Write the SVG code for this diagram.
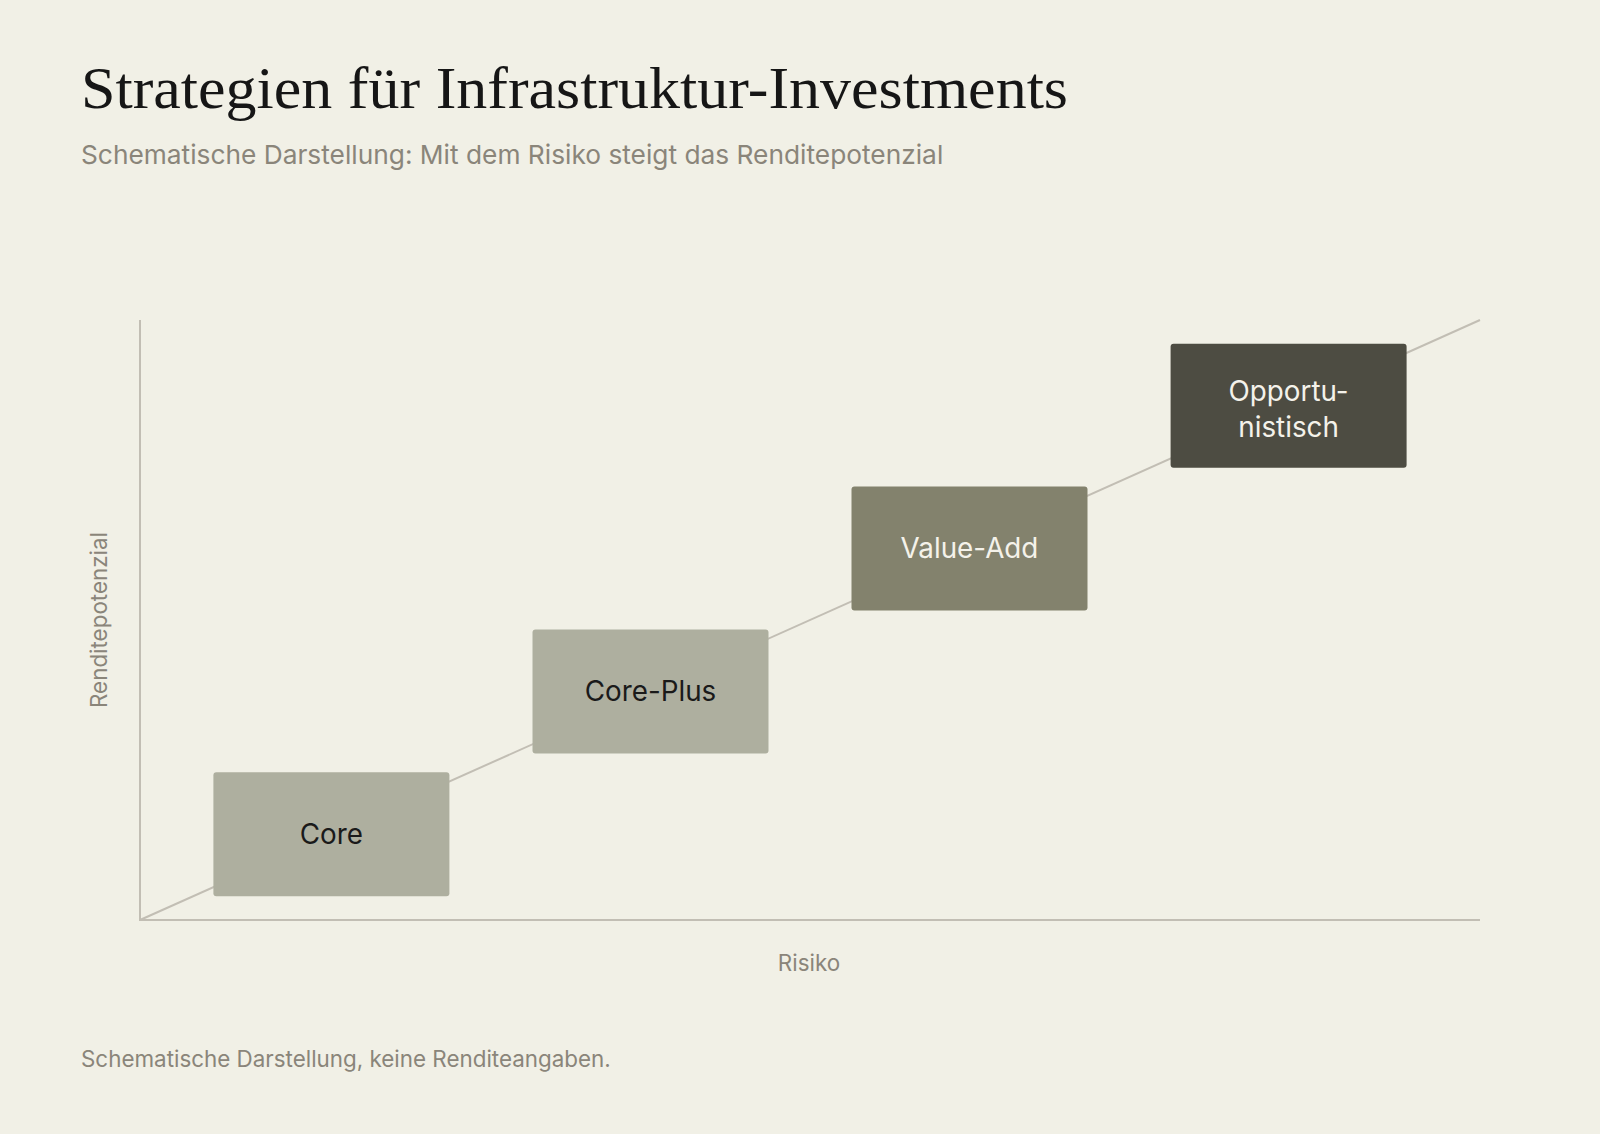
<svg xmlns="http://www.w3.org/2000/svg" width="1600" height="1134" viewBox="0 0 1600 1134">
<style>
.bg{fill:#F1F0E6}
.title{font-family:"Liberation Serif","DejaVu Serif",serif;font-size:60px;fill:#161616}
.sub{font-family:Inter,"Liberation Sans",Arial,sans-serif;font-size:26.3px;fill:#8A857A}
.small{font-family:Inter,"Liberation Sans",Arial,sans-serif;font-size:22.4px;fill:#8A857A}
.axis{stroke:#C2BEB4;stroke-width:2;fill:none}
.node rect{stroke:none}
.lbl{font-family:Inter,"Liberation Sans",Arial,sans-serif;font-size:27.8px;text-anchor:middle}
.dark{fill:#1A1A1A}
.light{fill:#F4F2EA}
</style>
<rect class="bg" x="0" y="0" width="1600" height="1134"/>
<text class="title" x="81" y="108" textLength="987" lengthAdjust="spacingAndGlyphs">Strategien für Infrastruktur-Investments</text>
<text class="sub" x="81" y="164">Schematische Darstellung: Mit dem Risiko steigt das Renditepotenzial</text>
<g id="axes">
<line class="axis" x1="140" y1="320" x2="140" y2="920"/>
<line class="axis" x1="139" y1="920" x2="1480" y2="920"/>
<text class="small" x="809" y="971" text-anchor="middle">Risiko</text>
<text class="small" transform="translate(107,620) rotate(-90)" text-anchor="middle">Renditepotenzial</text>
</g>
<g id="connectors">
<line class="axis" x1="140" y1="920" x2="1480" y2="320"/>
</g>
<g id="node-core" class="node">
<rect x="213.4" y="772.3" width="236" height="124" rx="3" fill="#AEAF9F"/>
<text class="lbl dark" x="331.4" y="843.8">Core</text>
</g>
<g id="node-coreplus" class="node">
<rect x="532.5" y="629.4" width="236" height="124" rx="3" fill="#AEAF9F"/>
<text class="lbl dark" x="650.5" y="700.9">Core-Plus</text>
</g>
<g id="node-valueadd" class="node">
<rect x="851.5" y="486.6" width="236" height="124" rx="3" fill="#83826D"/>
<text class="lbl light" x="969.5" y="558.1">Value-Add</text>
</g>
<g id="node-opportunistisch" class="node">
<rect x="1170.6" y="343.7" width="236" height="124" rx="3" fill="#4D4C42"/>
<text class="lbl light" x="1288.6" y="400.5">Opportu-</text>
<text class="lbl light" x="1288.6" y="436.5">nistisch</text>
</g>
<text class="small" x="81" y="1067">Schematische Darstellung, keine Renditeangaben.</text>
</svg>
